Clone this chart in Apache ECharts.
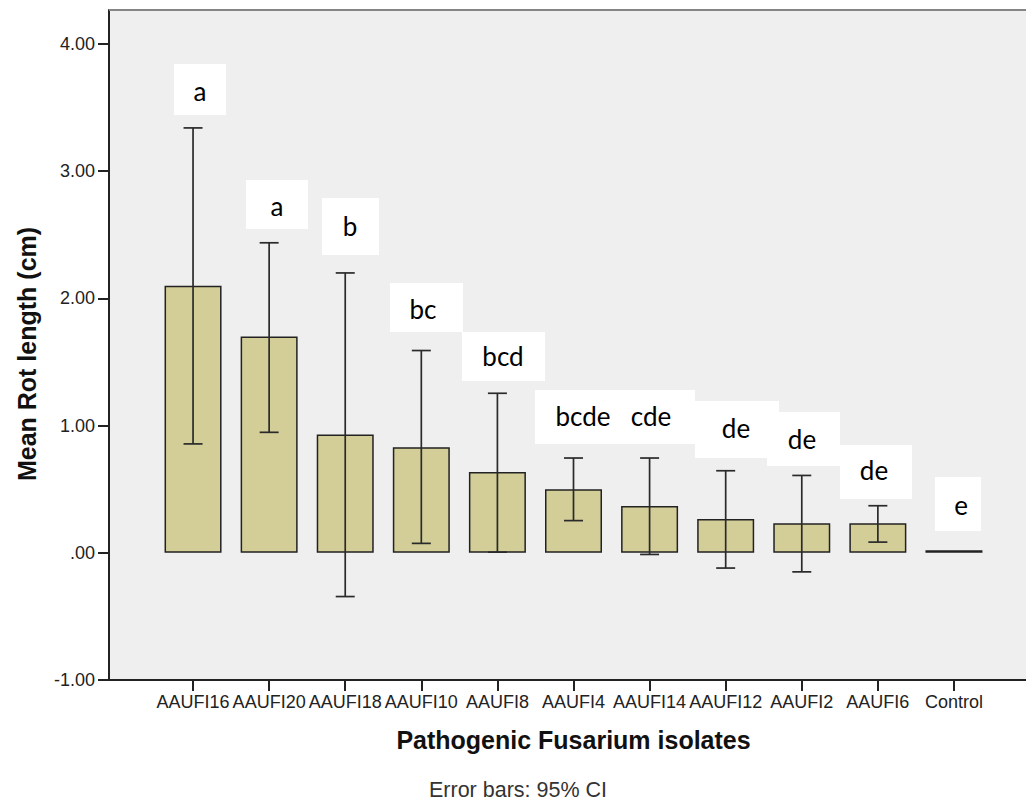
<!DOCTYPE html>
<html>
<head>
<meta charset="utf-8">
<script src="https://cdn.jsdelivr.net/npm/echarts@6/dist/echarts.min.js"></script>
<style>
html,body{margin:0;padding:0;background:#fff;overflow:hidden;}
#chart{width:1026px;height:801px;}
</style>
</head>
<body>
<div id="chart"></div>
<script>
// ---- data ----
const categories = ['AAUFI16','AAUFI20','AAUFI18','AAUFI10','AAUFI8','AAUFI4','AAUFI14','AAUFI12','AAUFI2','AAUFI6','Control'];
const means  = [2.10, 1.70, 0.93, 0.83, 0.635, 0.50, 0.368, 0.265, 0.232, 0.232, 0.02];
const ciLow  = [0.856, 0.947, -0.344, 0.074, 0.005, 0.253, -0.013, -0.12, -0.15, 0.084, null];
const ciHigh = [3.34, 2.437, 2.20, 1.59, 1.254, 0.745, 0.745, 0.645, 0.608, 0.37, null];
const groupLetters = ['a','a','b','bc','bcd','bcde','cde','de','de','de','e'];
const yTickValues = [-1, 0, 1, 2, 3, 4];
const yTickLabels = ['-1.00', '.00', '1.00', '2.00', '3.00', '4.00'];
const yTitle = 'Mean Rot length (cm)';
const xTitle = 'Pathogenic Fusarium isolates';
const footnote = 'Error bars: 95% CI';

// ---- layout / style (pixel positions of letter annotation boxes) ----
const letterBoxes = [
  [174, 64, 52, 51], [246, 180, 62, 49], [322, 198, 57, 57], [390, 283, 73, 49],
  [462, 332, 83, 49], [535, 390, 160, 54], [695, 401, 84, 57], [767, 412, 73, 54],
  [840, 445, 72, 54], [935, 477, 46, 54]
];
const letterPos = [
  [200, 91], [277, 206], [350, 226], [423, 309], [503, 356],
  [583, 416], [651, 416], [736, 428], [802, 439], [874, 470], [961, 505]
];

const FONT = "'Liberation Sans', Arial, sans-serif";
const chart = echarts.init(document.getElementById('chart'), null, {renderer: 'svg'});

const errData = [];
categories.forEach((c, i) => {
  if (ciLow[i] != null && ciHigh[i] != null) errData.push([i, ciLow[i], ciHigh[i]]);
});

const graphics = [];
// plot background panel (extends past the right edge, as in the reference)
graphics.push({type: 'rect', shape: {x: 109, y: 10, width: 960, height: 670},
  style: {fill: '#efefef'}, z: -10, silent: true});
graphics.push({type: 'line', shape: {x1: 109, y1: 10, x2: 1060, y2: 10},
  style: {stroke: '#858585', lineWidth: 2}, z: 1, silent: true});
graphics.push({type: 'line', shape: {x1: 109, y1: 680, x2: 1060, y2: 680},
  style: {stroke: '#222', lineWidth: 2}, z: 1, silent: true});
letterBoxes.forEach(b => {
  graphics.push({type: 'rect', shape: {x: b[0], y: b[1], width: b[2], height: b[3]},
    style: {fill: '#ffffff'}, z: 50, silent: true});
});
groupLetters.forEach((t, i) => {
  graphics.push({type: 'text', x: letterPos[i][0], y: letterPos[i][1], z: 51, silent: true,
    style: {text: t, fontFamily: "Lato, 'Open Sans', sans-serif", fontSize: 26, fill: '#000',
      align: 'center', verticalAlign: 'middle'}});
});
graphics.push({type: 'text', x: 27, y: 354, rotation: Math.PI / 2, z: 51, silent: true,
  style: {text: yTitle, fontFamily: FONT, fontWeight: 'bold', fontSize: 25, fill: '#111',
    align: 'center', verticalAlign: 'middle'}});
graphics.push({type: 'text', x: 518, y: 790, z: 51, silent: true,
  style: {text: footnote, fontFamily: FONT, fontSize: 21.5, fill: '#333',
    align: 'center', verticalAlign: 'middle'}});

const option = {
  animation: false,
  backgroundColor: '#ffffff',
  grid: [
    {left: 155, right: 34, top: 10, bottom: 121, show: false, outerBoundsMode: 'none', containLabel: false}
  ],
  xAxis: [
    {
      type: 'category', data: categories, position: 'bottom',
      axisLine: {show: false, onZero: false},
      axisTick: {show: true, alignWithLabel: true, length: 11, lineStyle: {color: '#222', width: 2}},
      axisLabel: {interval: 0, margin: 13, fontFamily: FONT, fontSize: 18, color: '#222'},
      splitLine: {show: false},
      name: xTitle, nameLocation: 'middle', nameGap: 47,
      nameTextStyle: {fontFamily: FONT, fontWeight: 'bold', fontSize: 25, color: '#111'}
    }
  ],
  yAxis: [
    {
      type: 'value', min: -1, max: 4.267, offset: 46,
      axisLine: {show: true, lineStyle: {color: '#222', width: 2}},
      axisTick: {show: true, length: 11, lineStyle: {color: '#222', width: 2}, customValues: yTickValues},
      axisLabel: {margin: 14, fontFamily: FONT, fontSize: 18, color: '#222', customValues: yTickValues,
        formatter: v => { const k = yTickValues.indexOf(Math.round(v)); return k >= 0 ? yTickLabels[k] : ''; }},
      splitLine: {show: false}
    }
  ],
  series: [
    {
      type: 'bar', data: means, barWidth: 57,
      itemStyle: {color: '#d3ce98', borderColor: '#222', borderWidth: 1.5},
      z: 2
    },
    {
      type: 'custom', data: errData, z: 5,
      renderItem: function (params, api) {
        const i = api.value(0);
        const lo = api.coord([i, api.value(1)]);
        const hi = api.coord([i, api.value(2)]);
        const hw = 9.5;
        const st = {stroke: '#2a2a2a', lineWidth: 1.7};
        return {type: 'group', children: [
          {type: 'line', shape: {x1: lo[0], y1: lo[1], x2: hi[0], y2: hi[1]}, style: st},
          {type: 'line', shape: {x1: hi[0] - hw, y1: hi[1], x2: hi[0] + hw, y2: hi[1]}, style: st},
          {type: 'line', shape: {x1: lo[0] - hw, y1: lo[1], x2: lo[0] + hw, y2: lo[1]}, style: st}
        ]};
      }
    }
  ],
  graphic: graphics
};
chart.setOption(option);
</script>
</body>
</html>
